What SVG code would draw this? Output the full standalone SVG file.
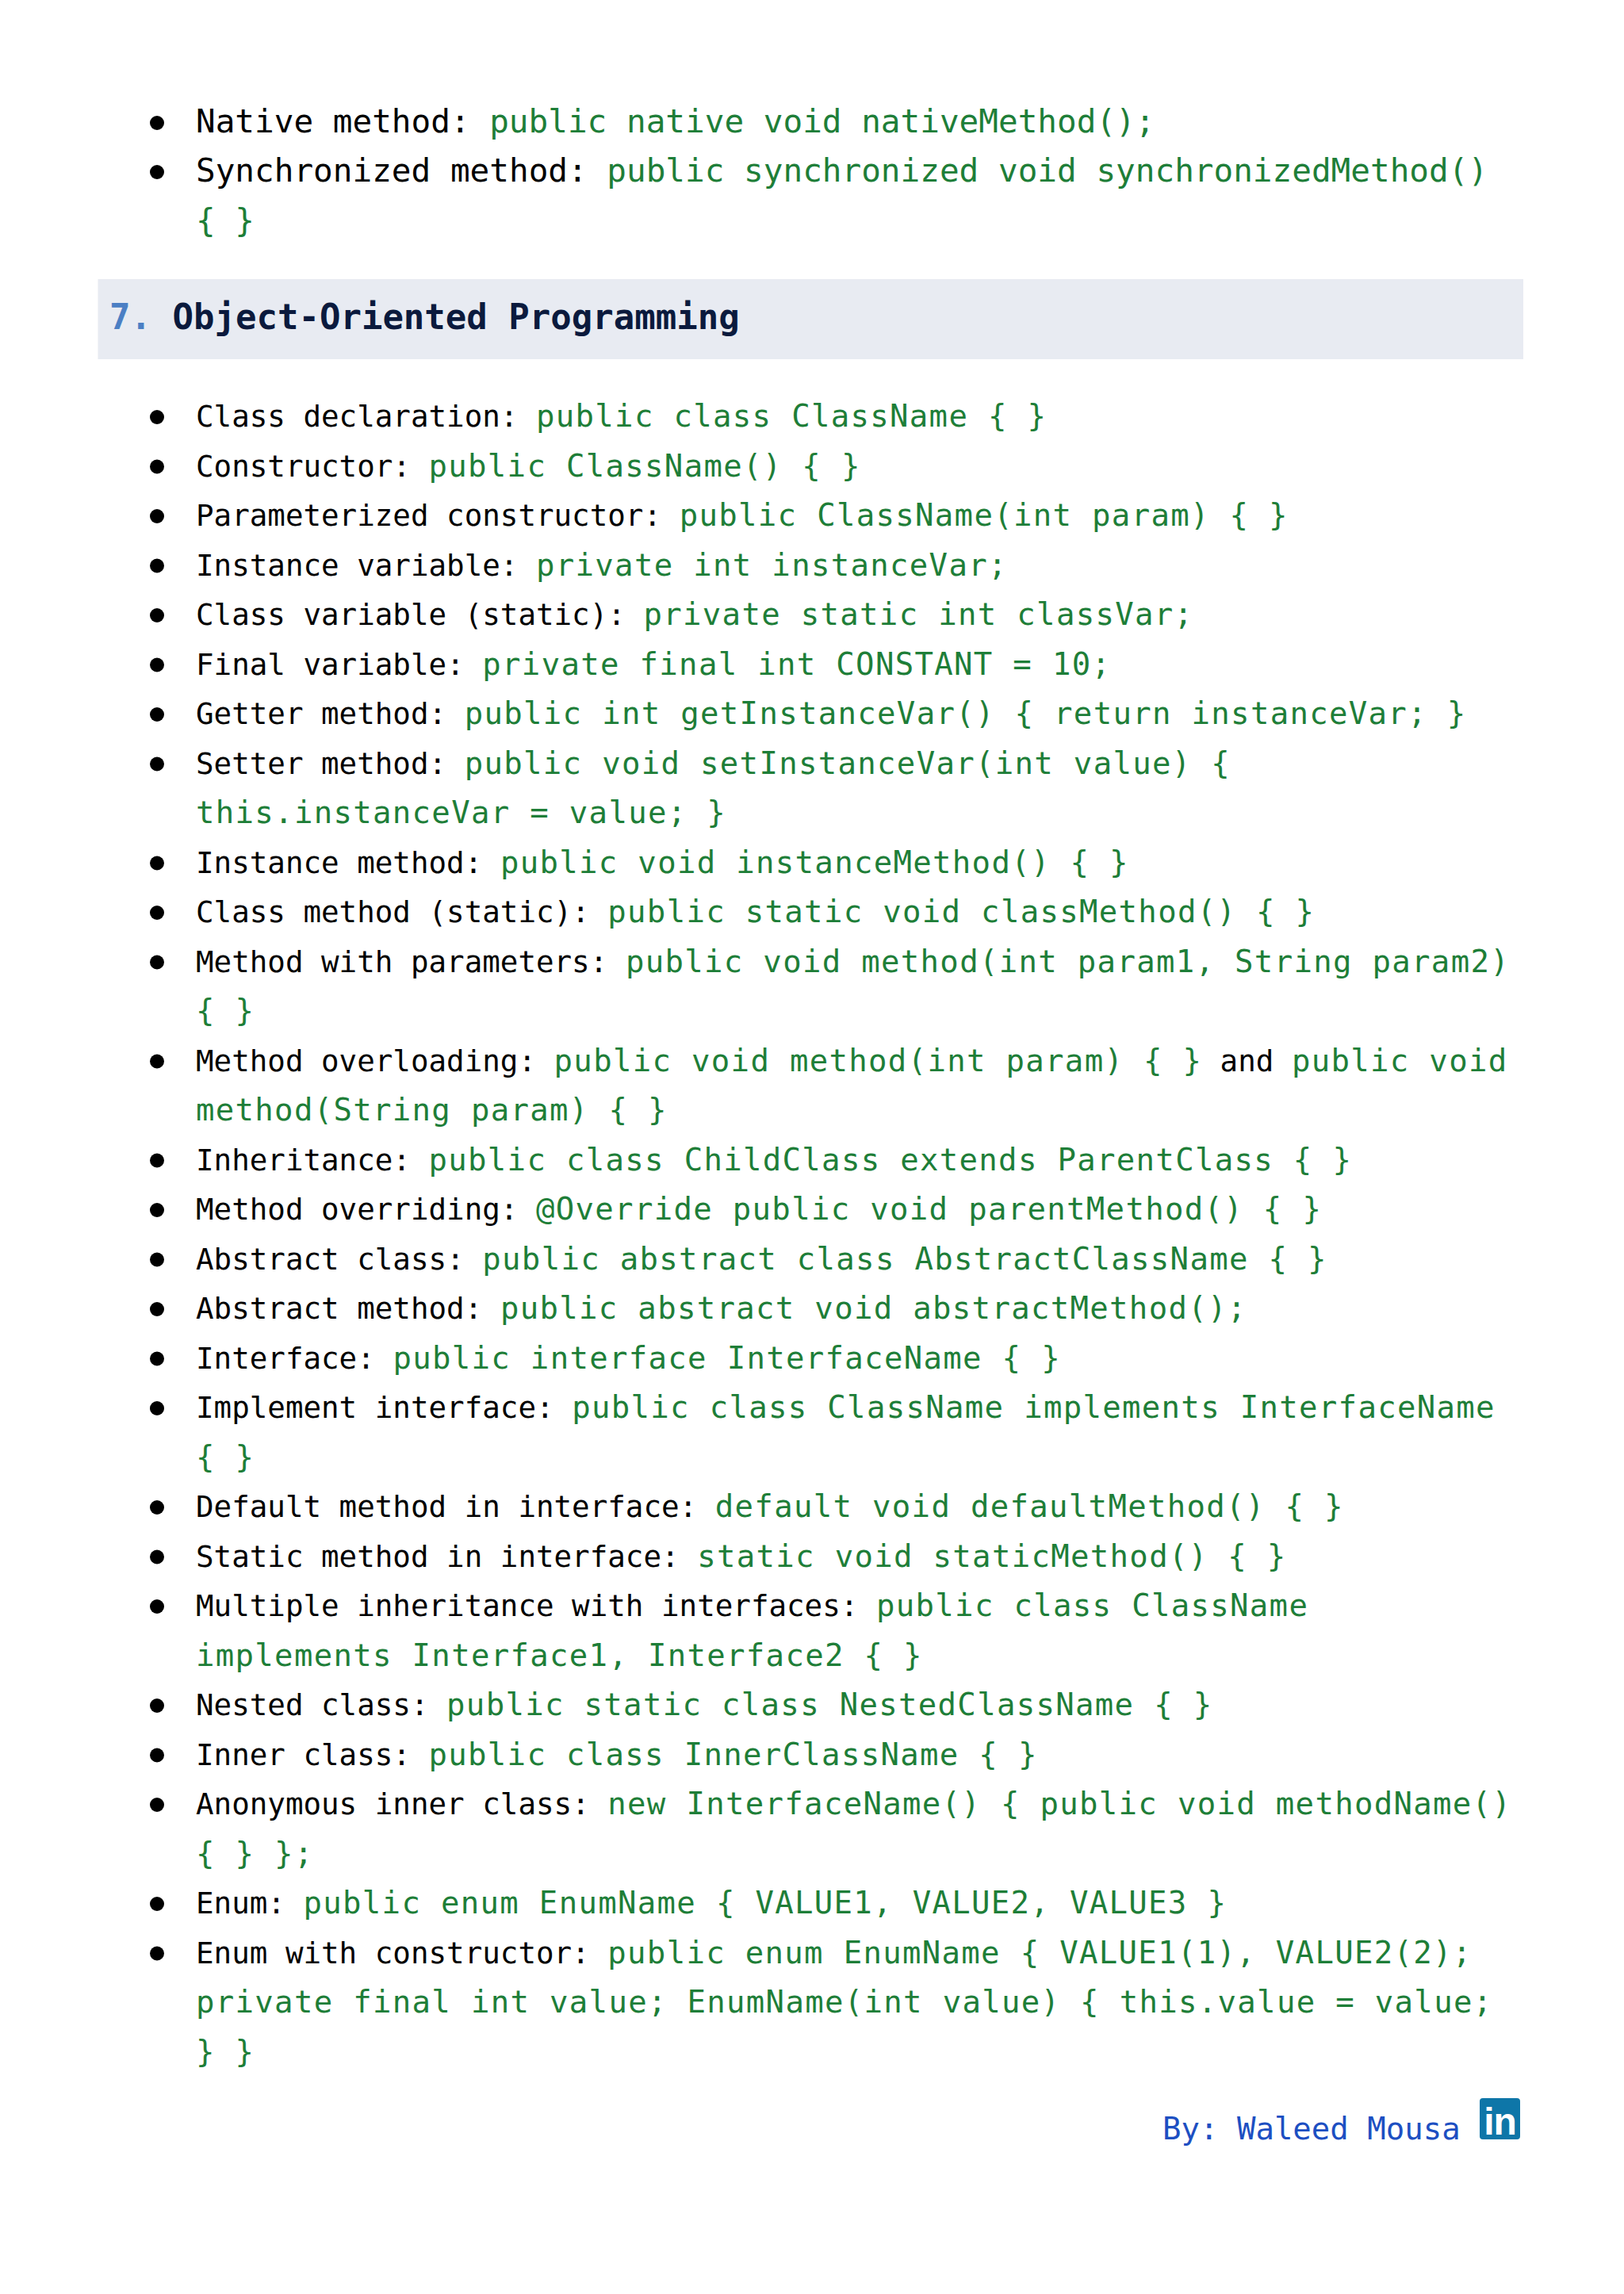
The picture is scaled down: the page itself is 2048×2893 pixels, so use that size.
<svg xmlns="http://www.w3.org/2000/svg" width="2048" height="2893" viewBox="0 0 2048 2893">
<style>
text{font-family:"DejaVu Sans Mono","Liberation Mono",monospace;}
.k{fill:#000;font-size:37.5px;}
.g{fill:#1e7e38;font-size:39px;letter-spacing:1.3px;}
.kt{fill:#000;font-size:41px;}
.gt{fill:#1e7e38;font-size:41px;}
.b{fill:#000;}
.hd{font-size:44px;font-weight:bold;}
.num{fill:#4b7fc4;}
.ttl{fill:#0b1a3d;}
.by{fill:#1d4fc2;font-size:39px;}
</style>
<rect width="2048" height="2893" fill="#fff"/>

<g id="top-section">
<circle class="b" cx="198" cy="155" r="9"/>
<text class="kt" x="247" y="166.7">Native method:</text>
<text class="gt" x="617.2" y="166.7">public native void nativeMethod();</text>
<circle class="b" cx="198" cy="217" r="9"/>
<text class="kt" x="247" y="229.2">Synchronized method:</text>
<text class="gt" x="765.3" y="229.2">public synchronized void synchronizedMethod()</text>
<text class="gt" x="247" y="291.7">{ }</text>
</g>

<g id="header">
<rect x="123.5" y="352" width="1797.5" height="101" fill="#e8ebf2"/>
<text class="hd" x="138" y="415"><tspan class="num">7.</tspan><tspan class="ttl"> Object-Oriented Programming</tspan></text>
</g>

<g id="bullets">
<circle class="b" cx="198" cy="526" r="9"/>
<circle class="b" cx="198" cy="588.5" r="9"/>
<circle class="b" cx="198" cy="651" r="9"/>
<circle class="b" cx="198" cy="713.5" r="9"/>
<circle class="b" cx="198" cy="776" r="9"/>
<circle class="b" cx="198" cy="838.5" r="9"/>
<circle class="b" cx="198" cy="901" r="9"/>
<circle class="b" cx="198" cy="963.5" r="9"/>
<circle class="b" cx="198" cy="1088.5" r="9"/>
<circle class="b" cx="198" cy="1151" r="9"/>
<circle class="b" cx="198" cy="1213.5" r="9"/>
<circle class="b" cx="198" cy="1338.5" r="9"/>
<circle class="b" cx="198" cy="1463.5" r="9"/>
<circle class="b" cx="198" cy="1526" r="9"/>
<circle class="b" cx="198" cy="1588.5" r="9"/>
<circle class="b" cx="198" cy="1651" r="9"/>
<circle class="b" cx="198" cy="1713.5" r="9"/>
<circle class="b" cx="198" cy="1776" r="9"/>
<circle class="b" cx="198" cy="1901" r="9"/>
<circle class="b" cx="198" cy="1963.5" r="9"/>
<circle class="b" cx="198" cy="2026" r="9"/>
<circle class="b" cx="198" cy="2151" r="9"/>
<circle class="b" cx="198" cy="2213.5" r="9"/>
<circle class="b" cx="198" cy="2276" r="9"/>
<circle class="b" cx="198" cy="2401" r="9"/>
<circle class="b" cx="198" cy="2463.5" r="9"/>
</g>

<g id="oop-items">
<text class="k" x="247" y="538">Class declaration:</text>
<text class="g" x="676" y="538">public class ClassName { }</text>

<text class="k" x="247" y="600.5">Constructor:</text>
<text class="g" x="540.5" y="600.5">public ClassName() { }</text>

<text class="k" x="247" y="663">Parameterized constructor:</text>
<text class="g" x="856.7" y="663">public ClassName(int param) { }</text>

<text class="k" x="247" y="725.5">Instance variable:</text>
<text class="g" x="676" y="725.5">private int instanceVar;</text>

<text class="k" x="247" y="788">Class variable (static):</text>
<text class="g" x="811.5" y="788">private static int classVar;</text>

<text class="k" x="247" y="850.5">Final variable:</text>
<text class="g" x="608.3" y="850.5">private final int CONSTANT = 10;</text>

<text class="k" x="247" y="913">Getter method:</text>
<text class="g" x="585.7" y="913">public int getInstanceVar() { return instanceVar; }</text>

<text class="k" x="247" y="975.5">Setter method:</text>
<text class="g" x="585.7" y="975.5">public void setInstanceVar(int value) {</text>
<text class="g" x="247" y="1038">this.instanceVar = value; }</text>

<text class="k" x="247" y="1100.5">Instance method:</text>
<text class="g" x="630.9" y="1100.5">public void instanceMethod() { }</text>

<text class="k" x="247" y="1163">Class method (static):</text>
<text class="g" x="766.3" y="1163">public static void classMethod() { }</text>

<text class="k" x="247" y="1225.5">Method with parameters:</text>
<text class="g" x="788.9" y="1225.5">public void method(int param1, String param2)</text>
<text class="g" x="247" y="1288">{ }</text>

<text class="k" x="247" y="1350.5">Method overloading:</text>
<text class="g" x="698.6" y="1350.5">public void method(int param) { }</text>
<text class="k" x="1538.6" y="1350.5">and</text>
<text class="g" x="1628.9" y="1350.5">public void</text>
<text class="g" x="247" y="1413">method(String param) { }</text>

<text class="k" x="247" y="1475.5">Inheritance:</text>
<text class="g" x="540.5" y="1475.5">public class ChildClass extends ParentClass { }</text>

<text class="k" x="247" y="1538">Method overriding:</text>
<text class="g" x="676" y="1538">@Override public void parentMethod() { }</text>

<text class="k" x="247" y="1600.5">Abstract class:</text>
<text class="g" x="608.3" y="1600.5">public abstract class AbstractClassName { }</text>

<text class="k" x="247" y="1663">Abstract method:</text>
<text class="g" x="630.9" y="1663">public abstract void abstractMethod();</text>

<text class="k" x="247" y="1725.5">Interface:</text>
<text class="g" x="495.4" y="1725.5">public interface InterfaceName { }</text>

<text class="k" x="247" y="1788">Implement interface:</text>
<text class="g" x="721.2" y="1788">public class ClassName implements InterfaceName</text>
<text class="g" x="247" y="1850.5">{ }</text>

<text class="k" x="247" y="1913">Default method in interface:</text>
<text class="g" x="901.8" y="1913">default void defaultMethod() { }</text>

<text class="k" x="247" y="1975.5">Static method in interface:</text>
<text class="g" x="879.2" y="1975.5">static void staticMethod() { }</text>

<text class="k" x="247" y="2038">Multiple inheritance with interfaces:</text>
<text class="g" x="1105" y="2038">public class ClassName</text>
<text class="g" x="247" y="2100.5">implements Interface1, Interface2 { }</text>

<text class="k" x="247" y="2163">Nested class:</text>
<text class="g" x="563.1" y="2163">public static class NestedClassName { }</text>

<text class="k" x="247" y="2225.5">Inner class:</text>
<text class="g" x="540.5" y="2225.5">public class InnerClassName { }</text>

<text class="k" x="247" y="2288">Anonymous inner class:</text>
<text class="g" x="766.3" y="2288">new InterfaceName() { public void methodName()</text>
<text class="g" x="247" y="2350.5">{ } };</text>

<text class="k" x="247" y="2413">Enum:</text>
<text class="g" x="382.5" y="2413">public enum EnumName { VALUE1, VALUE2, VALUE3 }</text>

<text class="k" x="247" y="2475.5">Enum with constructor:</text>
<text class="g" x="766.3" y="2475.5">public enum EnumName { VALUE1(1), VALUE2(2);</text>
<text class="g" x="247" y="2538">private final int value; EnumName(int value) { this.value = value;</text>
<text class="g" x="247" y="2600.5">} }</text>
</g>

<g id="footer">
<text class="by" x="1466" y="2698">By: Waleed Mousa</text>
<rect x="1866" y="2646" width="51" height="52" rx="4" fill="#0e76a8"/>
<text x="1891.5" y="2692" text-anchor="middle" fill="#fff" style="font-family:'Liberation Sans',Arial,sans-serif;font-weight:bold;font-size:48px;letter-spacing:-1px">in</text>
</g>
</svg>
